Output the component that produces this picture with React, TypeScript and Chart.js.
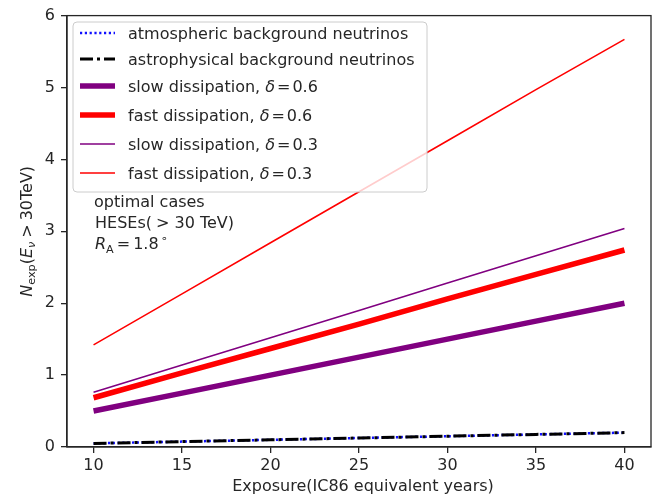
import React, { useEffect, useRef } from 'react';
import { Chart, registerables } from 'chart.js';

Chart.register(...registerables);

const FONT = '"DejaVu Sans", "Liberation Sans", sans-serif';
const FS = 16;
const TXT = '#262626';

// ---- data ----
const years = [10, 15, 20, 25, 30, 35, 40];
const atmospheric = [0.05, 0.075, 0.1, 0.125, 0.15, 0.175, 0.2];
const astrophysical = [0.05, 0.075, 0.1, 0.125, 0.15, 0.175, 0.2];
const slow06 = [0.5, 0.75, 1.0, 1.25, 1.5, 1.75, 2.0];
const fast06 = [0.685, 1.03, 1.37, 1.71, 2.06, 2.4, 2.74];
const slow03 = [0.76, 1.14, 1.52, 1.9, 2.28, 2.66, 3.04];
const fast03 = [1.42, 2.13, 2.84, 3.55, 4.26, 4.97, 5.67];

const xTicks = [10, 15, 20, 25, 30, 35, 40];
const yTicks = [0, 1, 2, 3, 4, 5, 6];

const seriesNames = [
  'atmospheric background neutrinos',
  'astrophysical background neutrinos',
  'slow dissipation, ',
  'fast dissipation, ',
  'slow dissipation, ',
  'fast dissipation, ',
];
const deltaValues = ['', '', '0.6', '0.6', '0.3', '0.3'];
const annotationLines = ['optimal cases', 'HESEs(', '> 30', ' TeV)', '1.8'];

type Seg = { t?: string; it?: boolean; sub?: boolean; sup?: boolean; gap?: number };

function segFont(s: Seg, size: number) {
  const fs = s.sub || s.sup ? size * 0.7 : size;
  return `${s.it ? 'italic ' : ''}${fs}px ${FONT}`;
}

function measureRich(ctx: CanvasRenderingContext2D, segs: Seg[], size: number) {
  let w = 0;
  for (const s of segs) {
    if (s.gap) { w += s.gap; continue; }
    ctx.font = segFont(s, size);
    w += ctx.measureText(s.t || '').width;
  }
  return w;
}

function drawRich(ctx: CanvasRenderingContext2D, segs: Seg[], x: number, y: number, size: number) {
  let cx = x;
  ctx.textBaseline = 'alphabetic';
  ctx.textAlign = 'left';
  for (const s of segs) {
    if (s.gap) { cx += s.gap; continue; }
    ctx.font = segFont(s, size);
    const dy = s.sub ? size * 0.22 : s.sup ? -size * 0.42 : 0;
    ctx.fillText(s.t || '', cx, y + dy);
    cx += ctx.measureText(s.t || '').width;
  }
  return cx - x;
}

const styles = [
  { color: '#1010ff', width: 2.5, dash: [2.2, 2.6] },
  { color: '#000000', width: 3, dash: [13, 4, 3, 4] },
  { color: '#800080', width: 5.5, dash: [] as number[] },
  { color: '#ff0000', width: 5.5, dash: [] as number[] },
  { color: '#800080', width: 1.6, dash: [] as number[] },
  { color: '#ff0000', width: 1.6, dash: [] as number[] },
];

const overlayPlugin = {
  id: 'overlay',
  afterDatasetsDraw(chart: any) {
    const ctx: CanvasRenderingContext2D = chart.ctx;
    const a = chart.chartArea;
    ctx.save();

    // frame (top/right spines)
    ctx.strokeStyle = TXT;
    ctx.lineWidth = 1.3;
    ctx.setLineDash([]);
    ctx.strokeRect(a.left, a.top, a.right - a.left, a.bottom - a.top);

    // legend box
    const lx = 73, ly = 22, lw = 354, lh = 170, r = 4;
    ctx.beginPath();
    ctx.moveTo(lx + r, ly);
    ctx.arcTo(lx + lw, ly, lx + lw, ly + lh, r);
    ctx.arcTo(lx + lw, ly + lh, lx, ly + lh, r);
    ctx.arcTo(lx, ly + lh, lx, ly, r);
    ctx.arcTo(lx, ly, lx + lw, ly, r);
    ctx.closePath();
    ctx.fillStyle = 'rgba(255,255,255,0.8)';
    ctx.fill();
    ctx.strokeStyle = '#cccccc';
    ctx.lineWidth = 1;
    ctx.stroke();

    const rows = [33, 59, 86, 115, 144, 173];
    rows.forEach((ry, i) => {
      const st = styles[i];
      ctx.beginPath();
      ctx.setLineDash(st.dash);
      ctx.lineDashOffset = 0;
      ctx.strokeStyle = st.color;
      ctx.lineWidth = st.width;
      ctx.lineCap = 'butt';
      ctx.moveTo(80, ry);
      ctx.lineTo(115, ry);
      ctx.stroke();
      ctx.setLineDash([]);
      ctx.fillStyle = TXT;
      const segs: Seg[] = [{ t: seriesNames[i] }];
      if (deltaValues[i]) {
        segs.push({ t: 'δ', it: true }, { gap: 2 }, { t: '=' }, { gap: 2 }, { t: deltaValues[i] });
      }
      drawRich(ctx, segs, 128, ry + 6, FS);
    });

    // annotation text
    ctx.fillStyle = TXT;
    drawRich(ctx, [{ t: annotationLines[0] }], 94, 207, FS);
    drawRich(ctx, [{ t: annotationLines[1] }, { gap: 4 }, { t: annotationLines[2] }, { t: annotationLines[3] }], 95, 228, FS);
    drawRich(ctx, [
      { t: 'R', it: true }, { t: 'A', sub: true }, { gap: 3 }, { t: '=' }, { gap: 3 },
      { t: annotationLines[4] }, { gap: 2 }, { t: '∘', sup: true },
    ], 95, 249, FS);

    // x axis title
    ctx.font = `${FS}px ${FONT}`;
    ctx.textAlign = 'center';
    ctx.textBaseline = 'middle';
    ctx.fillText('Exposure(IC86 equivalent years)', (a.left + a.right) / 2 + 4, 487);

    // y axis title (rotated)
    const ySegs: Seg[] = [
      { t: 'N', it: true }, { t: 'exp', sub: true }, { t: '(' }, { t: 'E', it: true },
      { t: 'ν', it: true, sub: true }, { gap: 4 }, { t: '>' }, { gap: 4 }, { t: '30TeV)' },
    ];
    const w = measureRich(ctx, ySegs, FS);
    ctx.translate(26, (a.top + a.bottom) / 2);
    ctx.rotate(-Math.PI / 2);
    drawRich(ctx, ySegs, -w / 2, 5.5, FS);

    ctx.restore();
  },
};

export default function App() {
  const canvasRef = useRef<HTMLCanvasElement | null>(null);

  useEffect(() => {
    const canvas = canvasRef.current;
    if (!canvas) return;
    const names = seriesNames.map((n, i) => n + (deltaValues[i] ? 'δ=' + deltaValues[i] : ''));
    const series = [atmospheric, astrophysical, slow06, fast06, slow03, fast03];
    const chart = new Chart(canvas, {
      type: 'line',
      data: {
        datasets: series.map((vals, i) => ({
          label: names[i],
          data: years.map((x, j) => ({ x, y: vals[j] })),
          borderColor: styles[i].color,
          borderWidth: styles[i].width,
          borderDash: styles[i].dash,
          borderCapStyle: 'butt' as const,
          pointRadius: 0,
          tension: 0,
          fill: false,
          order: 6 - i,
        })),
      },
      options: {
        animation: false,
        responsive: false,
        devicePixelRatio: 1,
        layout: { padding: { top: 13, right: 5, left: 0, bottom: 0 } },
        plugins: { legend: { display: false }, tooltip: { enabled: false } },
        scales: {
          x: {
            type: 'linear',
            min: 8.5,
            max: 41.5,
            afterBuildTicks: (s: any) => { s.ticks = xTicks.map((v) => ({ value: v })); },
            afterFit: (s: any) => { s.height = 53; },
            grid: { display: true, drawOnChartArea: false, drawTicks: true, tickLength: 6, color: TXT, lineWidth: 1.3 },
            border: { display: true, color: TXT, width: 1.3 },
            ticks: { color: TXT, font: { family: FONT, size: FS }, padding: 3, maxRotation: 0, autoSkip: false },
          },
          y: {
            type: 'linear',
            min: 0,
            max: 6,
            afterBuildTicks: (s: any) => { s.ticks = yTicks.map((v) => ({ value: v })); },
            afterFit: (s: any) => { s.width = 67; },
            grid: { display: true, drawOnChartArea: false, drawTicks: true, tickLength: 6, color: TXT, lineWidth: 1.3 },
            border: { display: true, color: TXT, width: 1.3 },
            ticks: { color: TXT, font: { family: FONT, size: FS }, padding: 6, autoSkip: false },
          },
        },
      },
      plugins: [overlayPlugin],
    } as any);
    return () => chart.destroy();
  }, []);

  return (
    <div style={{ position: 'absolute', left: 0, top: 0, width: 656, height: 500, background: '#fff' }}>
      <canvas ref={canvasRef} width={656} height={500} style={{ display: 'block', width: 656, height: 500 }} />
    </div>
  );
}
